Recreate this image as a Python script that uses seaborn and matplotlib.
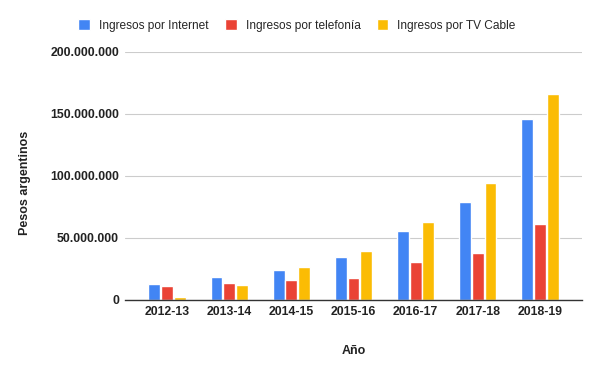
import pandas as pd
import matplotlib.pyplot as plt
import seaborn as sns
from matplotlib.ticker import FuncFormatter

periodos = ['2012-13', '2013-14', '2014-15', '2015-16', '2016-17', '2017-18', '2018-19']
internet = [12.9e6, 18.3e6, 24.2e6, 34.4e6, 55.6e6, 78.7e6, 145.5e6]
telefonia = [11.3e6, 13.7e6, 16.1e6, 17.5e6, 30.4e6, 37.6e6, 61.0e6]
tv_cable = [2.4e6, 12.1e6, 26.6e6, 39.5e6, 62.6e6, 94.0e6, 165.6e6]

series = ['Ingresos por Internet', 'Ingresos por telefonía', 'Ingresos por TV Cable']
colores = ['#4285F4', '#EA4335', '#FBBC04']

df = pd.DataFrame({
    'periodo': periodos * 3,
    'serie': [series[0]] * 7 + [series[1]] * 7 + [series[2]] * 7,
    'valor': internet + telefonia + tv_cable,
})

sns.set_style('white')
plt.rcParams['font.family'] = ['Liberation Sans', 'DejaVu Sans']

fig, ax = plt.subplots(figsize=(6, 3.71), dpi=100)
fig.subplots_adjust(left=0.2083, right=0.97, top=0.8606, bottom=0.1914)

sns.barplot(data=df, x='periodo', y='valor', hue='serie', palette=colores,
            saturation=1, width=0.61, gap=0.06, ax=ax, legend=True)

ax.set_ylim(0, 200e6)
ax.set_xlim(-0.675, 6.675)
ax.set_yticks([0, 50e6, 100e6, 150e6, 200e6])
ax.yaxis.set_major_formatter(FuncFormatter(lambda v, p: f'{int(v):,}'.replace(',', '.')))
ax.grid(axis='y', color='#cccccc', linewidth=0.8)
ax.set_axisbelow(True)
for s in ['top', 'right', 'left']:
    ax.spines[s].set_visible(False)
ax.spines['bottom'].set_color('#333333')
ax.spines['bottom'].set_linewidth(1.0)
ax.tick_params(axis='y', length=0, labelsize=8.8, colors='#222222', pad=4.3)
ax.tick_params(axis='x', length=0, labelsize=8.8, colors='#222222', pad=4)
for lab in ax.get_xticklabels() + ax.get_yticklabels():
    lab.set_fontweight('bold')

ax.set_xlabel('Año', fontsize=9, fontweight='bold', color='#222222')
ax.xaxis.set_label_coords(0.5, -(345 - 300) / 248.3)
ax.set_ylabel('Pesos argentinos', fontsize=9, fontweight='bold', color='#222222')
ax.yaxis.set_label_coords(-(125 - 31) / 457, 0.47)

handles, labels = ax.get_legend_handles_labels()
ax.get_legend().remove()
fig.legend(handles, labels, loc='center', bbox_to_anchor=(0.495, 1 - 25.3 / 371), ncol=3,
           frameon=False, fontsize=8.6, handlelength=1.0, handleheight=1.0,
           columnspacing=1.34, handletextpad=0.75)

fig.savefig('out.png', dpi=100)
